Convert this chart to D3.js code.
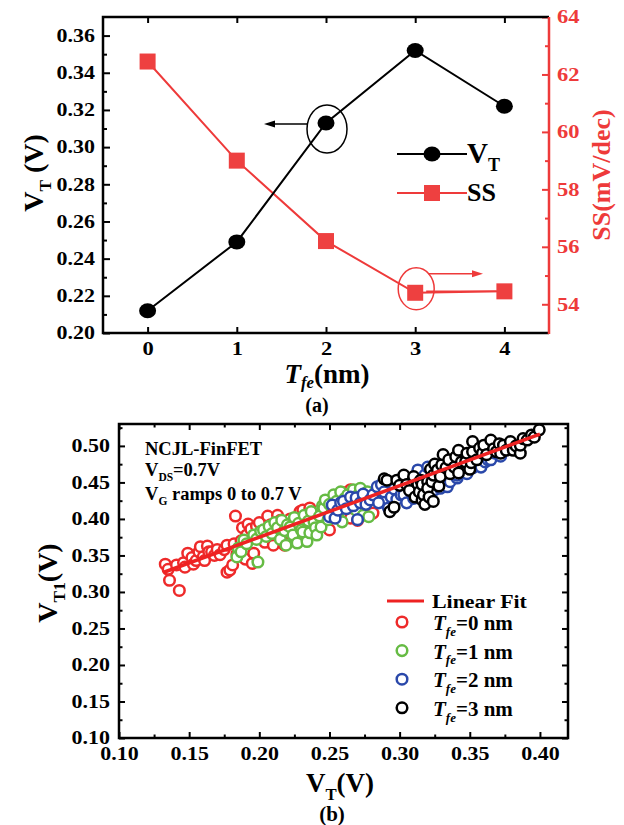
<!DOCTYPE html>
<html>
<head>
<meta charset="utf-8">
<script src="https://cdn.jsdelivr.net/npm/d3@7"></script>
<style>
  body { margin: 0; background: #fff; }
  svg text { font-family: "Liberation Serif", "Times New Roman", serif; font-weight: bold; }
</style>
</head>
<body>
<svg id="chart" width="624" height="825"></svg>
<script>
// ---------- panel (a) data ----------
const tfe = [0, 1, 2, 3, 4];
const vt = [0.212, 0.249, 0.313, 0.352, 0.322];
const ss = [62.45, 59.0, 56.2, 54.4, 54.45];
const vtTicks = [0.20, 0.22, 0.24, 0.26, 0.28, 0.30, 0.32, 0.34, 0.36];
const vtMinor = [0.21, 0.23, 0.25, 0.27, 0.29, 0.31, 0.33, 0.35];
const ssTicks = [54, 56, 58, 60, 62, 64];
const ssMinor = [55, 57, 59, 61, 63];

// ---------- panel (b) data: [VT, VT1] ----------
const fitVT = [0.132, 0.40];
const fitVT1 = [0.327, 0.516];
const tfe0 = [[0.133,0.338],[0.135,0.331],[0.136,0.316],[0.143,0.302],[0.141,0.337],[0.146,0.340],[0.147,0.334],
  [0.149,0.353],[0.152,0.347],[0.153,0.338],[0.155,0.343],[0.157,0.355],[0.158,0.362],[0.160,0.348],[0.161,0.343],
  [0.163,0.363],[0.164,0.355],[0.166,0.355],[0.168,0.350],[0.170,0.358],[0.172,0.351],[0.175,0.358],[0.177,0.364],
  [0.177,0.327],[0.179,0.330],[0.181,0.337],[0.182,0.366],[0.183,0.404],[0.184,0.352],[0.186,0.358],[0.187,0.370],
  [0.188,0.388],[0.190,0.345],[0.191,0.378],[0.192,0.393],[0.194,0.386],[0.195,0.339],[0.196,0.353],[0.198,0.390],
  [0.199,0.375],[0.200,0.395],[0.202,0.380],[0.204,0.368],[0.206,0.404],[0.208,0.392],[0.210,0.364],[0.212,0.386],
  [0.213,0.405],[0.215,0.398],[0.217,0.374],[0.218,0.364],[0.220,0.367],[0.222,0.400],[0.225,0.393],[0.229,0.410],
  [0.231,0.412],[0.233,0.378],[0.236,0.415],[0.240,0.392],[0.244,0.396],[0.250,0.385],[0.255,0.430],[0.260,0.436],
  [0.265,0.440],[0.265,0.401],[0.270,0.398],[0.275,0.417],[0.281,0.408]];
const tfe1 = [[0.184,0.348],[0.185,0.360],[0.187,0.355],[0.189,0.371],[0.191,0.366],[0.196,0.378],[0.198,0.372],
  [0.199,0.341],[0.201,0.383],[0.203,0.385],[0.205,0.376],[0.207,0.390],[0.209,0.380],[0.211,0.395],[0.213,0.388],
  [0.215,0.372],[0.216,0.398],[0.218,0.384],[0.219,0.364],[0.220,0.392],[0.222,0.389],[0.224,0.378],[0.225,0.402],
  [0.227,0.367],[0.228,0.394],[0.230,0.385],[0.231,0.382],[0.232,0.405],[0.234,0.369],[0.235,0.397],[0.236,0.381],
  [0.237,0.410],[0.239,0.396],[0.240,0.388],[0.241,0.378],[0.243,0.404],[0.244,0.389],[0.245,0.418],[0.246,0.415],
  [0.247,0.426],[0.249,0.399],[0.250,0.420],[0.252,0.410],[0.253,0.433],[0.255,0.424],[0.256,0.408],[0.258,0.437],
  [0.259,0.396],[0.261,0.428],[0.263,0.433],[0.265,0.420],[0.267,0.440],[0.269,0.412],[0.270,0.432],[0.272,0.442],
  [0.274,0.405],[0.276,0.425],[0.277,0.437],[0.278,0.403],[0.282,0.430]];
const tfe2 = [[0.250,0.403],[0.252,0.419],[0.254,0.401],[0.256,0.412],[0.258,0.422],[0.260,0.424],[0.262,0.414],
  [0.265,0.430],[0.267,0.418],[0.269,0.429],[0.270,0.399],[0.272,0.422],[0.274,0.434],[0.276,0.420],[0.279,0.426],
  [0.281,0.433],[0.284,0.444],[0.285,0.422],[0.287,0.447],[0.289,0.437],[0.292,0.415],[0.294,0.430],[0.296,0.441],
  [0.298,0.427],[0.301,0.433],[0.303,0.433],[0.305,0.422],[0.306,0.447],[0.308,0.437],[0.310,0.428],[0.313,0.467],
  [0.313,0.452],[0.315,0.447],[0.318,0.460],[0.320,0.471],[0.322,0.456],[0.325,0.440],[0.329,0.442],[0.331,0.465],
  [0.334,0.444],[0.336,0.451],[0.338,0.470],[0.341,0.456],[0.341,0.460],[0.345,0.475],[0.348,0.462],[0.352,0.470],
  [0.355,0.483],[0.358,0.471],[0.361,0.478],[0.363,0.481],[0.365,0.481],[0.368,0.490],[0.372,0.486]];
const tfe3 = [[0.289,0.455],[0.291,0.453],[0.293,0.410],[0.296,0.416],[0.298,0.453],[0.300,0.446],[0.303,0.460],
  [0.305,0.447],[0.307,0.439],[0.310,0.458],[0.311,0.430],[0.313,0.448],[0.314,0.437],[0.315,0.453],[0.316,0.426],
  [0.316,0.447],[0.317,0.433],[0.318,0.420],[0.320,0.451],[0.320,0.442],[0.321,0.430],[0.322,0.468],[0.323,0.451],
  [0.324,0.424],[0.324,0.460],[0.325,0.475],[0.327,0.467],[0.328,0.445],[0.329,0.458],[0.330,0.474],[0.331,0.488],
  [0.333,0.470],[0.335,0.481],[0.336,0.462],[0.339,0.471],[0.340,0.485],[0.342,0.494],[0.342,0.463],[0.344,0.478],
  [0.347,0.478],[0.348,0.490],[0.350,0.468],[0.351,0.477],[0.352,0.492],[0.352,0.506],[0.355,0.481],[0.357,0.497],
  [0.359,0.490],[0.360,0.501],[0.362,0.488],[0.365,0.508],[0.367,0.496],[0.369,0.492],[0.371,0.503],[0.372,0.490],
  [0.374,0.501],[0.376,0.494],[0.379,0.506],[0.381,0.494],[0.383,0.500],[0.386,0.490],[0.386,0.501],[0.388,0.510],
  [0.391,0.508],[0.394,0.515],[0.396,0.512],[0.3995,0.522]];
const bTicksX = [0.10, 0.15, 0.20, 0.25, 0.30, 0.35, 0.40];
const bMinorX = [0.125, 0.175, 0.225, 0.275, 0.325, 0.375];
const bTicksY = [0.10, 0.15, 0.20, 0.25, 0.30, 0.35, 0.40, 0.45, 0.50];
const bMinorY = [0.125, 0.175, 0.225, 0.275, 0.325, 0.375, 0.425, 0.475, 0.525];

const RED = '#ee3a3a';
const svg = d3.select('#chart');

// stretch text sideways a little, tick labels in the original are wide
function stretch(sel, k) {
  sel.each(function () {
    const w = this.getComputedTextLength();
    this.setAttribute('textLength', w * k);
    this.setAttribute('lengthAdjust', 'spacingAndGlyphs');
  });
}

// text with sub/italic parts
function rich(parent, x, y, parts, size, color, subDrop) {
  const t = parent.append('text').attr('x', x).attr('y', y)
    .attr('font-size', size).attr('fill', color || '#000');
  let shift = 0;
  parts.forEach(p => {
    const ts = t.append('tspan').text(p.t);
    const want = p.sub ? size * (subDrop || 0.28) : 0;
    if (want !== shift) ts.attr('dy', want - shift);
    shift = want;
    if (p.sub) ts.attr('font-size', size * 0.62);
    if (p.it) ts.attr('font-style', 'italic');
  });
  return t;
}

function styleAxis(g, color, labelSize) {
  g.select('.domain').remove();
  g.selectAll('line').attr('stroke', color).attr('stroke-width', 2);
  g.selectAll('text').attr('fill', color).attr('font-size', labelSize);
  g.attr('font-family', null).attr('font-size', null);
}

// ================= panel (a) =================
const xa = d3.scaleLinear().domain([-0.5, 4.5]).range([103, 549]);
const yaL = d3.scaleLinear().domain([0.20, 0.37]).range([333, 17]);
const yaR = d3.scaleLinear().domain([53, 64]).range([333, 17]);
const ga = svg.append('g');

const axB = ga.append('g').attr('transform', 'translate(0,333)')
  .call(d3.axisBottom(xa).tickValues(tfe).tickSize(-6).tickPadding(9).tickFormat(d3.format('d')));
styleAxis(axB, '#000', 18); stretch(axB.selectAll('text'), 1.25);
const axT = ga.append('g').attr('transform', 'translate(0,17)')
  .call(d3.axisTop(xa).tickValues(tfe).tickSize(-6).tickFormat(''));
styleAxis(axT, '#000', 18);
const axL = ga.append('g').attr('transform', 'translate(103,0)')
  .call(d3.axisLeft(yaL).tickValues(vtTicks).tickSize(-7).tickPadding(8).tickFormat(d3.format('.2f')));
styleAxis(axL, '#000', 18); stretch(axL.selectAll('text'), 1.22);
const axLm = ga.append('g').attr('transform', 'translate(103,0)')
  .call(d3.axisLeft(yaL).tickValues(vtMinor).tickSize(-4).tickFormat(''));
styleAxis(axLm, '#000', 18);
const axR = ga.append('g').attr('transform', 'translate(549,0)')
  .call(d3.axisRight(yaR).tickValues(ssTicks).tickSize(-7).tickPadding(8).tickFormat(d3.format('d')));
styleAxis(axR, RED, 18); stretch(axR.selectAll('text'), 1.25);
const axRm = ga.append('g').attr('transform', 'translate(549,0)')
  .call(d3.axisRight(yaR).tickValues(ssMinor).tickSize(-4).tickFormat(''));
styleAxis(axRm, RED, 18);

// frame
ga.append('path').attr('d', 'M549,17H103V333H549').attr('fill', 'none')
  .attr('stroke', '#000').attr('stroke-width', 2.5);
ga.append('line').attr('x1', 549).attr('x2', 549).attr('y1', 17).attr('y2', 334)
  .attr('stroke', RED).attr('stroke-width', 2.5);

// lines
const vtPts = tfe.map((t, i) => [t, vt[i]]);
const ssPts = tfe.map((t, i) => [t, ss[i]]);
ga.append('path').datum(ssPts)
  .attr('d', d3.line().x(d => xa(d[0])).y(d => yaR(d[1])))
  .attr('fill', 'none').attr('stroke', RED).attr('stroke-width', 2);
ga.append('path').datum(vtPts)
  .attr('d', d3.line().x(d => xa(d[0])).y(d => yaL(d[1])))
  .attr('fill', 'none').attr('stroke', '#000').attr('stroke-width', 2);
ga.selectAll('rect.ss').data(ssPts).enter().append('rect')
  .attr('x', d => xa(d[0]) - 8).attr('y', d => yaR(d[1]) - 8)
  .attr('width', 16).attr('height', 16).attr('fill', '#ee4040');
ga.selectAll('ellipse.vt').data(vtPts).enter().append('ellipse')
  .attr('cx', d => xa(d[0])).attr('cy', d => yaL(d[1]))
  .attr('rx', 8.5).attr('ry', 7.5).attr('fill', '#000');

// annotations: ellipses and arrows
const c2x = xa(2) + 1, c2y = yaL(vt[2]) + 6;
ga.append('ellipse').attr('cx', c2x).attr('cy', c2y).attr('rx', 20).attr('ry', 24)
  .attr('fill', 'none').attr('stroke', '#000').attr('stroke-width', 1.5);
ga.append('line').attr('x1', c2x - 20).attr('x2', 272).attr('y1', c2y - 5).attr('y2', c2y - 5)
  .attr('stroke', '#000').attr('stroke-width', 1.5);
ga.append('path').attr('d', `M264,${c2y - 5}l11,-3.5v7z`).attr('fill', '#000');

const c3x = xa(3) + 1, c3y = yaR(ss[3]) - 4;
ga.append('ellipse').attr('cx', c3x).attr('cy', c3y).attr('rx', 18).attr('ry', 21)
  .attr('fill', 'none').attr('stroke', RED).attr('stroke-width', 1.5);
ga.append('line').attr('x1', c3x + 12).attr('x2', 474).attr('y1', c3y - 15).attr('y2', c3y - 15)
  .attr('stroke', RED).attr('stroke-width', 1.5);
ga.append('path').attr('d', `M483,${c3y - 15}l-11,-3.5v7z`).attr('fill', RED);
ga.append('line').attr('x1', c3x + 10).attr('x2', xa(4) - 8).attr('y1', yaR(ss[4])).attr('y2', yaR(ss[4]))
  .attr('stroke', RED).attr('stroke-width', 1.5);

// legend (a)
ga.append('line').attr('x1', 397).attr('x2', 467).attr('y1', 154).attr('y2', 154)
  .attr('stroke', '#000').attr('stroke-width', 2);
ga.append('ellipse').attr('cx', 432).attr('cy', 154).attr('rx', 8.5).attr('ry', 7.5).attr('fill', '#000');
rich(ga, 467, 163, [{ t: 'V' }, { t: 'T', sub: true }], 29);
ga.append('line').attr('x1', 397).attr('x2', 467).attr('y1', 193).attr('y2', 193)
  .attr('stroke', RED).attr('stroke-width', 2);
ga.append('rect').attr('x', 424).attr('y', 185).attr('width', 16).attr('height', 16).attr('fill', '#ee4040');
ga.append('text').attr('x', 467).attr('y', 201).attr('font-size', 26).text('SS');

// axis titles (a)
rich(ga, 0, 0, [{ t: 'V' }, { t: 'T', sub: true }, { t: ' (V)' }], 28)
  .attr('text-anchor', 'middle').attr('transform', 'translate(43,173) rotate(-90)');
ga.append('text').attr('text-anchor', 'middle').attr('transform', 'translate(610,175) rotate(-90)')
  .attr('font-size', 26).attr('fill', RED).text('SS(mV/dec)');
rich(ga, 327, 383, [{ t: 'T', it: true }, { t: 'fe', it: true, sub: true }, { t: '(nm)' }], 27, '#000', 0.2)
  .attr('text-anchor', 'middle');
ga.append('text').attr('x', 317).attr('y', 412).attr('text-anchor', 'middle')
  .attr('font-size', 20).text('(a)');

// ================= panel (b) =================
const xb = d3.scaleLinear().domain([0.10, 0.42]).range([119, 568]);
const yb = d3.scaleLinear().domain([0.10, 0.53]).range([738, 424]);
const gb = svg.append('g');

const bx = gb.append('g').attr('transform', 'translate(0,738)')
  .call(d3.axisBottom(xb).tickValues(bTicksX).tickSize(-6).tickPadding(9).tickFormat(d3.format('.2f')));
styleAxis(bx, '#000', 18); stretch(bx.selectAll('text'), 1.22);
const bxm = gb.append('g').attr('transform', 'translate(0,738)')
  .call(d3.axisBottom(xb).tickValues(bMinorX).tickSize(-3.5).tickFormat(''));
styleAxis(bxm, '#000', 18);
const bt = gb.append('g').attr('transform', 'translate(0,424)')
  .call(d3.axisTop(xb).tickValues(bTicksX).tickSize(-6).tickFormat(''));
styleAxis(bt, '#000', 18);
const btm = gb.append('g').attr('transform', 'translate(0,424)')
  .call(d3.axisTop(xb).tickValues(bMinorX).tickSize(-3.5).tickFormat(''));
styleAxis(btm, '#000', 18);
const byl = gb.append('g').attr('transform', 'translate(119,0)')
  .call(d3.axisLeft(yb).tickValues(bTicksY).tickSize(-6).tickPadding(9).tickFormat(d3.format('.2f')));
styleAxis(byl, '#000', 18); stretch(byl.selectAll('text'), 1.22);
const bylm = gb.append('g').attr('transform', 'translate(119,0)')
  .call(d3.axisLeft(yb).tickValues(bMinorY).tickSize(-3.5).tickFormat(''));
styleAxis(bylm, '#000', 18);
const byr = gb.append('g').attr('transform', 'translate(568,0)')
  .call(d3.axisRight(yb).tickValues(bTicksY).tickSize(-6).tickFormat(''));
styleAxis(byr, '#000', 18);
const byrm = gb.append('g').attr('transform', 'translate(568,0)')
  .call(d3.axisRight(yb).tickValues(bMinorY).tickSize(-3.5).tickFormat(''));
styleAxis(byrm, '#000', 18);

gb.append('rect').attr('x', 119).attr('y', 424).attr('width', 449).attr('height', 314)
  .attr('fill', 'none').attr('stroke', '#000').attr('stroke-width', 2.5);

// scatter
const series = [
  { pts: tfe0, color: '#ee2a2a', label: '0' },
  { pts: tfe1, color: '#66bb44', label: '1' },
  { pts: tfe2, color: '#2a48aa', label: '2' },
  { pts: tfe3, color: '#000000', label: '3' }
];
series.forEach(s => {
  gb.append('g').selectAll('circle').data(s.pts).enter().append('circle')
    .attr('cx', d => xb(d[0])).attr('cy', d => yb(d[1])).attr('r', 5.3)
    .attr('fill', '#fff').attr('stroke', s.color).attr('stroke-width', 2.5);
});

// linear fit
gb.append('line').attr('x1', xb(fitVT[0])).attr('y1', yb(fitVT1[0]))
  .attr('x2', xb(fitVT[1])).attr('y2', yb(fitVT1[1]))
  .attr('stroke', '#ee2222').attr('stroke-width', 3.5);

// annotation text
gb.append('text').attr('x', 145).attr('y', 455).attr('font-size', 18.5).text('NCJL-FinFET');
rich(gb, 145, 476, [{ t: 'V' }, { t: 'DS', sub: true }, { t: '=0.7V' }], 18.5);
rich(gb, 145, 500, [{ t: 'V' }, { t: 'G', sub: true }, { t: ' ramps 0 to 0.7 V' }], 18.5);

// legend (b)
gb.append('line').attr('x1', 387).attr('x2', 424).attr('y1', 601).attr('y2', 601)
  .attr('stroke', '#ee2222').attr('stroke-width', 3);
stretch(gb.append('text').attr('x', 432).attr('y', 608).attr('font-size', 19.5).text('Linear Fit'), 1.12);
series.forEach((s, i) => {
  const cy = 622 + i * 28.6;
  gb.append('circle').attr('cx', 402).attr('cy', cy).attr('r', 5.3)
    .attr('fill', '#fff').attr('stroke', s.color).attr('stroke-width', 2.5);
  rich(gb, 433, cy + 8, [{ t: 'T', it: true }, { t: 'fe', it: true, sub: true }, { t: '=' + s.label + ' nm' }], 21);
});

// axis titles (b)
rich(gb, 0, 0, [{ t: 'V' }, { t: 'T1', sub: true }, { t: '(V)' }], 28)
  .attr('text-anchor', 'middle').attr('transform', 'translate(57,583) rotate(-90)');
rich(gb, 340, 792, [{ t: 'V' }, { t: 'T', sub: true }, { t: '(V)' }], 27).attr('text-anchor', 'middle');
gb.append('text').attr('x', 332).attr('y', 821).attr('text-anchor', 'middle')
  .attr('font-size', 21).text('(b)');
</script>
</body>
</html>
